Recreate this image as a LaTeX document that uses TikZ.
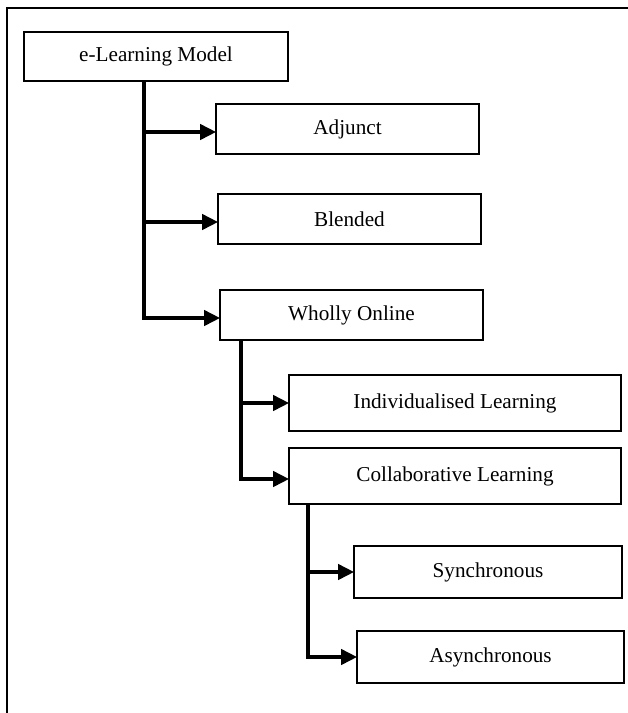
\documentclass[tikz,border=0pt]{standalone}
\usepackage{fontspec}
\setmainfont{Liberation Serif}
\usetikzlibrary{arrows.meta}
\begin{document}
\begin{tikzpicture}[x=1pt,y=-1pt,
  box/.style={draw, line width=1.6pt, rectangle, inner sep=0pt, font=\fontsize{21.2}{25}\selectfont, text=black},
  conn/.style={line width=3.8pt, -{Triangle[length=16pt,width=15pt]}, shorten >=-1pt},
  trunk/.style={line width=3.8pt}]
\useasboundingbox (0,0) rectangle (628,713);
\fill[white] (0,0) rectangle (628,713);
% outer frame (partially visible)
\coordinate (fa) at (7,713);
\coordinate (fb) at (7,8);
\coordinate (fc) at (628,8);
\draw[line width=2.6pt] (fa) -- (fb) -- (fc);
% nodes
\node[box, minimum width=264pt, minimum height=49pt] (root) at (156,56.5) {e-Learning Model};
\node[box, minimum width=263pt, minimum height=50pt] (adj) at (347.5,129) {Adjunct};
\node[box, minimum width=263pt, minimum height=50pt] (blend) at (349.5,219) {Blended};
\node[box, minimum width=263pt, minimum height=50pt] (whol) at (351.5,315) {Wholly Online};
\node[box, minimum width=332pt, minimum height=56pt] (ind) at (455,403) {Individualised Learning};
\node[box, minimum width=332pt, minimum height=56pt] (col) at (455,476) {Collaborative Learning};
\node[box, minimum width=268pt, minimum height=52pt] (syn) at (488,572) {Synchronous};
\node[box, minimum width=267pt, minimum height=52pt] (asy) at (490.5,657) {Asynchronous};
% trunk coordinates
\coordinate (t1) at (144,0);
\coordinate (t2) at (241,0);
\coordinate (t3) at (308,0);
% connectors level 1
\draw[trunk] (root.south -| t1) -- ([yshift=-3pt]t1 |- whol.west);
\draw[conn] ([xshift=-1.9pt,yshift=-3pt]t1 |- whol.west) -- ([yshift=-3pt]whol.west);
\draw[conn] ([yshift=-3pt]t1 |- adj.west) -- ([yshift=-3pt]adj.west);
\draw[conn] ([yshift=-3pt]t1 |- blend.west) -- ([yshift=-3pt]blend.west);
% level 2
\draw[trunk] (whol.south -| t2) -- ([yshift=-3pt]t2 |- col.west);
\draw[conn] ([xshift=-1.9pt,yshift=-3pt]t2 |- col.west) -- ([yshift=-3pt]col.west);
\draw[conn] (t2 |- ind.west) -- (ind.west);
% level 3
\draw[trunk] (col.south -| t3) -- (t3 |- asy.west);
\draw[conn] ([xshift=-1.9pt]t3 |- asy.west) -- (asy.west);
\draw[conn] (t3 |- syn.west) -- (syn.west);
\end{tikzpicture}
\end{document}
